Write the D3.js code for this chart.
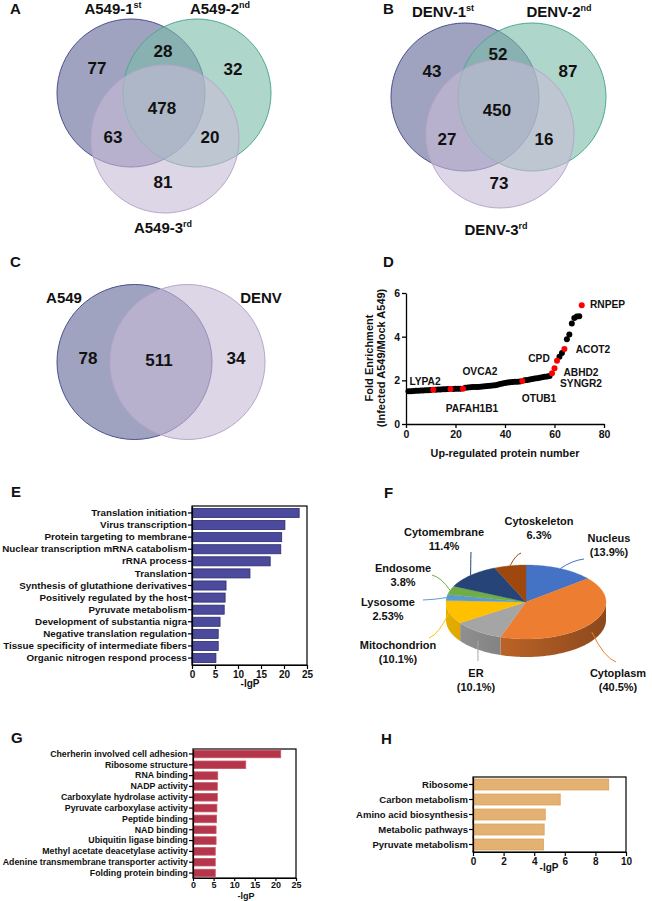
<!DOCTYPE html>
<html lang="en">
<head>
<meta charset="UTF-8">
<title>Proteomics figure</title>
<script src="https://d3js.org/d3.v7.min.js"></script>
<style>
    body { margin: 0; background: #fff; }
    svg text { font-family: "Liberation Sans", Arial, sans-serif; font-weight: bold; fill: #111; }
</style>
</head>
<body>
<div id="fig"></div>
<script>
    // ---------- data ----------
    // venn region order: only1, 1&2, only2, all, 1&3, 2&3, only3
    let vennASets = [['A549-1', 'st'], ['A549-2', 'nd'], ['A549-3', 'rd']];
    let vennACounts = [77, 28, 32, 478, 63, 20, 81];
    let vennBSets = [['DENV-1', 'st'], ['DENV-2', 'nd'], ['DENV-3', 'rd']];
    let vennBCounts = [43, 52, 87, 450, 27, 16, 73];
    let vennCSets = ['A549', 'DENV'];
    let vennCCounts = [78, 511, 34];

    // fold enrichment, protein number 1..71
    let foldValues = [1.50, 1.50, 1.51, 1.52, 1.52, 1.53, 1.54, 1.55, 1.55, 1.56,
        1.57, 1.57, 1.58, 1.58, 1.59, 1.59, 1.60, 1.60, 1.60, 1.61,
        1.61, 1.62, 1.62, 1.66, 1.67, 1.68, 1.69, 1.70, 1.70, 1.71,
        1.72, 1.73, 1.74, 1.75, 1.76, 1.78, 1.80, 1.83, 1.86, 1.88,
        1.90, 1.91, 1.92, 1.93, 1.94, 1.95, 1.97, 2.00, 2.02, 2.04,
        2.06, 2.08, 2.10, 2.12, 2.14, 2.16, 2.18, 2.20, 2.32, 2.55,
        2.90, 3.08, 3.25, 3.43, 3.88, 4.10, 4.60, 4.86, 4.92, 4.93,
        5.44];
    let foldHighlight = [11, 18, 23, 47, 59, 60, 61, 64, 71];
    let foldGenes = ['LYPA2', 'PAFAH1B1', 'OVCA2', 'OTUB1', 'CPD', 'ABHD2', 'SYNGR2', 'ACOT2', 'RNPEP'];
    let foldXTicks = [0, 20, 40, 60, 80];
    let foldYTicks = [0, 2, 4, 6];

    let bpTerms = ['Translation initiation', 'Virus transcription', 'Protein targeting to membrane',
        'Nuclear transcription mRNA catabolism', 'rRNA process', 'Translation',
        'Synthesis of glutathione derivatives', 'Positively regulated by the host', 'Pyruvate metabolism',
        'Development of substantia nigra', 'Negative translation regulation',
        'Tissue specificity of intermediate fibers', 'Organic nitrogen respond  process'];
    let bpValues = [23.3, 20.2, 19.5, 19.3, 17.0, 12.6, 7.4, 7.2, 7.0, 6.1, 5.7, 5.7, 5.2];
    let bpTicks = [0, 5, 10, 15, 20, 25];

    let locNames = ['Nucleus', 'Cytoplasm', 'ER', 'Mitochondrion', 'Lysosome', 'Endosome', 'Cytomembrane', 'Cytoskeleton'];
    let locPct = [13.9, 40.5, 10.1, 10.1, 2.53, 3.8, 11.4, 6.3];
    let locPctText = ['(13.9%)', '(40.5%)', '(10.1%)', '(10.1%)', '2.53%', '3.8%', '11.4%', '6.3%'];

    let mfTerms = ['Cherherin involved cell adhesion', 'Ribosome structure', 'RNA binding', 'NADP activity',
        'Carboxylate hydrolase activity', 'Pyruvate carboxylase activity', 'Peptide binding', 'NAD binding',
        'Ubiquitin ligase binding', 'Methyl acetate deacetylase activity',
        'Adenine transmembrane transporter activity', 'Folding protein binding'];
    let mfValues = [21.3, 12.8, 6.0, 5.9, 5.9, 5.8, 5.7, 5.6, 5.6, 5.4, 5.4, 5.4];
    let mfTicks = [0, 5, 10, 15, 20, 25];

    let keggTerms = ['Ribosome', 'Carbon metabolism', 'Amino acid biosynthesis', 'Metabolic pathways', 'Pyruvate metabolism'];
    let keggValues = [8.87, 5.7, 4.72, 4.65, 4.6];
    let keggTicks = [0, 2, 4, 6, 8, 10];

    // ---------- drawing ----------
    let svg = d3.select('#fig').append('svg')
        .attr('width', 652).attr('height', 901)
        .style('background', '#fff');

    function panelLetter(t, x, y) {
        svg.append('text').attr('x', x).attr('y', y).attr('font-size', 15).text(t);
    }

    let vennFills = ['#616696', '#7abba7', '#c6bbd5'];
    let vennStrokes = ['#4a4f8f', '#4fa98f', '#b7a6c9'];

    function venn3(sets, counts, circles, labelPos, numPos) {
        let g = svg.append('g');
        circles.forEach(function (c, i) {
            g.append('circle').attr('cx', c[0]).attr('cy', c[1]).attr('r', c[2])
                .attr('fill', vennFills[i]).attr('fill-opacity', 0.6)
                .attr('stroke', vennStrokes[i]).attr('stroke-width', 1);
        });
        sets.forEach(function (s, i) {
            let t = g.append('text').attr('x', labelPos[i][0]).attr('y', labelPos[i][1])
                .attr('text-anchor', 'middle').attr('font-size', 15);
            t.append('tspan').text(s[0]);
            t.append('tspan').attr('font-size', 9).attr('dy', -6).text(s[1]);
        });
        counts.forEach(function (n, i) {
            g.append('text').attr('x', numPos[i][0]).attr('y', numPos[i][1] + 6)
                .attr('text-anchor', 'middle').attr('font-size', 17).text(n);
        });
    }

    panelLetter('A', 10, 14);
    venn3(vennASets, vennACounts,
        [[131, 93, 74], [197, 93, 74], [165, 139, 74]],
        [[113, 14], [220, 14], [163, 233]],
        [[97, 68], [163, 51], [233, 69], [162, 108], [113, 137], [210, 137], [163, 182]]);

    panelLetter('B', 383, 14);
    venn3(vennBSets, vennBCounts,
        [[465, 97, 74], [532, 97, 74], [500, 134, 74]],
        [[443, 17], [559, 17], [496, 235]],
        [[432, 71], [498, 54], [568, 71], [497, 110], [447, 139], [544, 139], [499, 183]]);

    // C two-set venn
    panelLetter('C', 10, 267);
    let gC = svg.append('g');
    [[134.5, 362, 77.5], [187.5, 362, 77.5]].forEach(function (c, i) {
        gC.append('circle').attr('cx', c[0]).attr('cy', c[1]).attr('r', c[2])
            .attr('fill', i === 0 ? vennFills[0] : vennFills[2]).attr('fill-opacity', 0.6)
            .attr('stroke', i === 0 ? vennStrokes[0] : vennStrokes[2]).attr('stroke-width', 1);
    });
    gC.append('text').attr('x', 64).attr('y', 303).attr('text-anchor', 'middle').attr('font-size', 15).text(vennCSets[0]);
    gC.append('text').attr('x', 261).attr('y', 303).attr('text-anchor', 'middle').attr('font-size', 15).text(vennCSets[1]);
    [[88, 358], [159, 360], [236, 358]].forEach(function (p, i) {
        gC.append('text').attr('x', p[0]).attr('y', p[1] + 6).attr('text-anchor', 'middle')
            .attr('font-size', 17).text(vennCCounts[i]);
    });

    // D scatter
    panelLetter('D', 383, 267);
    let xD = d3.scaleLinear().domain([0, 80]).range([406, 604]);
    let yD = d3.scaleLinear().domain([0, 6]).range([424, 293]);
    let gD = svg.append('g');
    let axDx = gD.append('g').attr('transform', 'translate(0,424)')
        .call(d3.axisBottom(xD).tickValues(foldXTicks).tickFormat(d3.format('d')).tickSize(4).tickSizeOuter(0));
    let axDy = gD.append('g').attr('transform', 'translate(406,0)')
        .call(d3.axisLeft(yD).tickValues(foldYTicks).tickFormat(d3.format('d')).tickSize(4).tickSizeOuter(0).tickPadding(2));
    [axDx, axDy].forEach(function (a) {
        a.attr('font-size', 10.5);
        a.selectAll('path, line').attr('stroke', '#000').attr('stroke-width', 1.3);
    });
    let foldPts = foldValues.map(function (v, i) { return {n: i + 1, v: v}; });
    gD.append('g').selectAll('circle')
        .data(foldPts.filter(function (d) { return !foldHighlight.includes(d.n); }))
        .enter().append('circle')
        .attr('cx', function (d) { return xD(d.n); })
        .attr('cy', function (d) { return yD(d.v); })
        .attr('r', 3).attr('fill', '#000');
    gD.append('g').selectAll('circle')
        .data(foldPts.filter(function (d) { return foldHighlight.includes(d.n); }))
        .enter().append('circle')
        .attr('cx', function (d) { return xD(d.n); })
        .attr('cy', function (d) { return yD(d.v); })
        .attr('r', 3).attr('fill', '#ff0000');
    let genePos = [[425, 381], [472, 408], [480, 371], [539, 398], [539, 358], [581, 372], [581, 383], [593, 349], [608, 304]];
    foldGenes.forEach(function (g, i) {
        let anchor = i === 8 ? 'start' : 'middle';
        gD.append('text').attr('x', i === 8 ? 590 : genePos[i][0]).attr('y', genePos[i][1] + 4)
            .attr('text-anchor', anchor).attr('font-size', 10.2).text(g);
    });
    gD.append('text').attr('x', 505).attr('y', 457).attr('text-anchor', 'middle')
        .attr('font-size', 10.8).text('Up-regulated protein number');
    gD.append('text').attr('transform', 'translate(373,358) rotate(-90)').attr('text-anchor', 'middle')
        .attr('font-size', 11).text('Fold Enrichment');
    gD.append('text').attr('transform', 'translate(385,358) rotate(-90)').attr('text-anchor', 'middle')
        .attr('font-size', 11).text('(Infected A549/Mock A549)');

    // horizontal bar panels
    function hbar(terms, values, ticks, opt) {
        let g = svg.append('g');
        let x = d3.scaleLinear().domain([0, ticks[ticks.length - 1]]).range([opt.x0, opt.x1]);
        let y = d3.scaleBand().domain(terms).range([opt.y0, opt.y1])
            .paddingInner(opt.pi).paddingOuter(opt.po);
        g.append('rect').attr('x', opt.x0).attr('y', opt.y0)
            .attr('width', opt.x1 - opt.x0).attr('height', opt.y1 - opt.y0)
            .attr('fill', 'none').attr('stroke', '#000').attr('stroke-width', 1.2);
        g.selectAll('.bar').data(values).enter().append('rect')
            .attr('class', 'bar')
            .attr('x', x(0))
            .attr('y', function (d, i) { return y(terms[i]); })
            .attr('width', function (d) { return x(d) - x(0); })
            .attr('height', y.bandwidth())
            .attr('fill', opt.fill).attr('stroke', opt.stroke).attr('stroke-width', 0.8);
        let ax = g.append('g').attr('transform', 'translate(0,' + opt.y1 + ')')
            .call(d3.axisBottom(x).tickValues(ticks).tickSize(opt.tickLen || 4).tickSizeOuter(0).tickPadding(opt.tickPad || 2));
        ax.attr('font-size', opt.tickFont);
        let ay = g.append('g').attr('transform', 'translate(' + opt.x0 + ',0)')
            .call(d3.axisLeft(y).tickSize(4).tickSizeOuter(0).tickPadding(1));
        ay.attr('font-size', opt.labelFont);
        [ax, ay].forEach(function (a) {
            a.selectAll('path, line').attr('stroke', '#000').attr('stroke-width', 1.2);
        });
        g.append('text').attr('x', opt.titleX).attr('y', opt.titleY).attr('text-anchor', 'middle')
            .attr('font-size', opt.tickFont).text('-lgP');
    }

    panelLetter('E', 11, 497);
    hbar(bpTerms, bpValues, bpTicks, {
        x0: 192, x1: 307, y0: 506, y1: 665, pi: 0.25, po: 0.2,
        fill: '#4b4a9c', stroke: '#2d2c70', tickFont: 10, labelFont: 9.8, titleX: 250, titleY: 687
    });

    panelLetter('G', 11, 743);
    hbar(mfTerms, mfValues, mfTicks, {
        x0: 193, x1: 296, y0: 749, y1: 878, pi: 0.3, po: 0.11,
        fill: '#b5364a', stroke: '#c85566', tickFont: 9, labelFont: 8.8, titleX: 246, titleY: 899,
        tickLen: 3, tickPad: 1
    });

    panelLetter('H', 381, 744);
    hbar(keggTerms, keggValues, keggTicks, {
        x0: 473, x1: 626, y0: 777, y1: 852, pi: 0.27, po: 0.135,
        fill: '#e3b272', stroke: '#d9a055', tickFont: 10, labelFont: 9.5, titleX: 549, titleY: 871
    });

    // F 3D pie
    panelLetter('F', 384, 498);
    let pieColors = ['#4472c4', '#ed7d31', '#a5a5a5', '#ffc000', '#5b9bd5', '#70ad47', '#264478', '#9e480e'];
    let arcs = d3.pie().sort(null).value(function (d) { return d; })(locPct);
    let pcx = 526, pcy = 602, prx = 80, pry = 37, depth = 18;
    function ept(a, dy) { return [pcx + prx * Math.sin(a), pcy - pry * Math.cos(a) + (dy || 0)]; }
    function arcPts(a0, a1, dy) {
        let n = Math.max(2, Math.ceil((a1 - a0) / 0.02));
        return d3.range(n + 1).map(function (i) { return ept(a0 + (a1 - a0) * i / n, dy); });
    }
    let line = d3.line();
    let gF = svg.append('g');
    let defs = svg.append('defs');
    arcs.forEach(function (s, i) {
        let a0 = Math.max(s.startAngle, Math.PI / 2), a1 = Math.min(s.endAngle, 3 * Math.PI / 2);
        if (a1 <= a0) return;
        let gid = 'side' + i;
        let grad = defs.append('linearGradient').attr('id', gid)
            .attr('gradientUnits', 'userSpaceOnUse')
            .attr('x1', pcx - prx).attr('x2', pcx + prx).attr('y1', 0).attr('y2', 0);
        grad.append('stop').attr('offset', '0%').attr('stop-color', d3.color(pieColors[i]).darker(0.3));
        grad.append('stop').attr('offset', '100%').attr('stop-color', d3.color(pieColors[i]).darker(1.5));
        let pts = arcPts(a0, a1, 0).concat(arcPts(a0, a1, depth).reverse());
        gF.append('path').attr('d', line(pts) + 'Z').attr('fill', 'url(#' + gid + ')');
    });
    arcs.forEach(function (s, i) {
        let pts = [[pcx, pcy]].concat(arcPts(s.startAngle, s.endAngle, 0));
        gF.append('path').attr('d', line(pts) + 'Z').attr('fill', pieColors[i])
            .attr('stroke', pieColors[i]).attr('stroke-width', 0.3);
    });
    // labels: name line centre and leader start
    let locLabel = [[609, 538, 584, 559], [618, 673, 616, 662], [476, 673, 478, 661], [398, 645, 429, 638],
        [388, 602, 423, 600], [403, 568, 432, 575], [444, 532, 471, 552], [539, 521, 521, 553]];
    arcs.forEach(function (s, i) {
        let L = locLabel[i];
        let mid = (s.startAngle + s.endAngle) / 2;
        let front = Math.cos(mid) < -0.3;
        let e = ept(mid, front ? depth * 0.5 : 0);
        let ctrl = [(L[2] + e[0]) / 2, L[3] + (e[1] - L[3]) * 0.15];
        gF.append('path')
            .attr('d', 'M' + L[2] + ',' + L[3] + 'Q' + ctrl[0] + ',' + ctrl[1] + ' ' + e[0] + ',' + e[1])
            .attr('fill', 'none').attr('stroke', pieColors[i]).attr('stroke-width', 1);
        gF.append('text').attr('x', L[0]).attr('y', L[1] + 4).attr('text-anchor', 'middle')
            .attr('font-size', 11).text(locNames[i]);
        gF.append('text').attr('x', L[0]).attr('y', L[1] + 17.5).attr('text-anchor', 'middle')
            .attr('font-size', 11).text(locPctText[i]);
    });
</script>
</body>
</html>
